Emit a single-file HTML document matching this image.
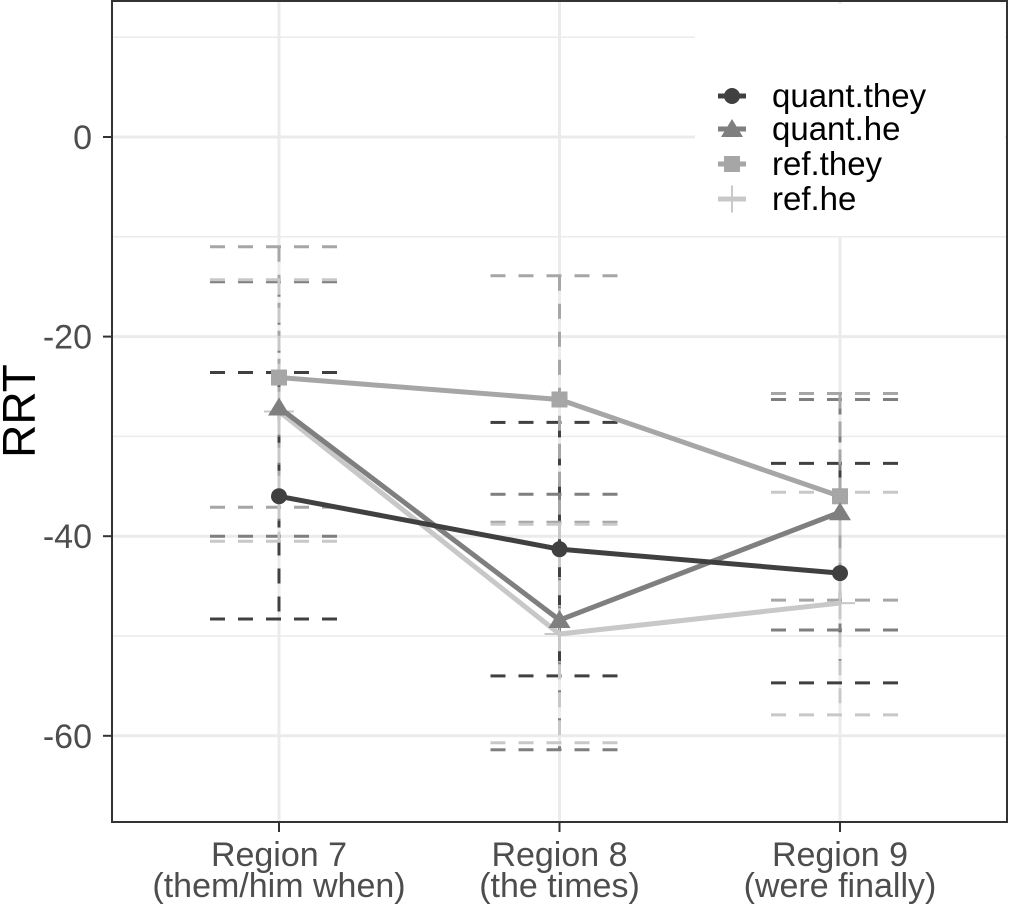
<!DOCTYPE html>
<html><head><meta charset="utf-8"><style>
html,body{margin:0;padding:0;background:#fff;}
svg{display:block;font-family:"Liberation Sans",sans-serif;}
</style></head><body>
<svg id="chart" width="1009" height="909" viewBox="0 0 1009 909" xmlns="http://www.w3.org/2000/svg">
<g id="grid"></g>
<g id="errs"></g>
<g id="lines"></g>
<g id="axes"></g>
<g id="legend"></g>
</svg>
<script>
const categories = ["Region 7", "Region 8", "Region 9"];
const categorySub = ["(them/him when)", "(the times)", "(were finally)"];
const seriesNames = ["quant.they", "quant.he", "ref.they", "ref.he"];
const quantThey = [-36.0, -41.3, -43.7];
const quantHe = [-27.1, -48.4, -37.6];
const refThey = [-24.1, -26.3, -36.0];
const refHe = [-27.5, -49.8, -46.7];
const quantTheyLo = [-48.3, -54.0, -54.7];
const quantTheyHi = [-23.6, -28.6, -32.7];
const quantHeLo = [-40.0, -61.4, -49.4];
const quantHeHi = [-14.5, -35.8, -26.3];
const refTheyLo = [-37.1, -38.6, -46.4];
const refTheyHi = [-11.0, -13.9, -25.7];
const refHeLo = [-40.5, -60.7, -57.9];
const refHeHi = [-14.3, -38.8, -35.6];
const yTicks = [0, -20, -40, -60];
const yMinor = [10, -10, -30, -50];

const NS = "http://www.w3.org/2000/svg";
const L = 112, R = 1007, T = 1, B = 822;
function y(v){ return 137 - v * 9.98; }
function x(i){ return 279 + i * 280.5; }
function mk(tag, attrs, parent){
  const e = document.createElementNS(NS, tag);
  for (const k in attrs) e.setAttribute(k, attrs[k]);
  parent.appendChild(e);
  return e;
}
const colors = ["#404040", "#7f7f7f", "#a6a6a6", "#c8c8c8"];
const means = [quantThey, quantHe, refThey, refHe];
const los = [quantTheyLo, quantHeLo, refTheyLo, refHeLo];
const his = [quantTheyHi, quantHeHi, refTheyHi, refHeHi];

const grid = document.getElementById('grid');
mk('rect', {x:L, y:T, width:R-L, height:B-T, fill:'#fff'}, grid);
yMinor.forEach(v => {
  const g = mk('line', {x1:L, x2:R, y1:y(v), y2:y(v), stroke:'#ebebeb', 'stroke-width':1.5}, grid);
  
  
});
yTicks.forEach(v => {
  const g = mk('line', {x1:L, x2:R, y1:y(v), y2:y(v), stroke:'#ebebeb', 'stroke-width':3}, grid);
  
  
});
categories.forEach((c, i) => {
  const g = mk('line', {x1:x(i), x2:x(i), y1:T, y2:B, stroke:'#ebebeb', 'stroke-width':3}, grid);
  
  
});

const errs = document.getElementById('errs');
means.forEach((m, s) => {
  categories.forEach((c, i) => {
    const lo = y(los[s][i]), hi = y(his[s][i]), cx = x(i);
    const ds = {stroke:colors[s], 'stroke-width':3, 'stroke-dasharray':'15 13', fill:'none'};
    const v = mk('line', Object.assign({x1:cx, x2:cx, y1:hi, y2:lo}, ds), errs);
    
    
    [lo, hi].forEach(yy => {
      const h = mk('line', Object.assign({x1:cx-69, x2:cx+69, y1:yy, y2:yy}, ds), errs);
      
      
    });
  });
});

function marker(s, cx, cy, parent, sc){
  sc = sc || 1;
  let e;
  if (s === 0) e = mk('circle', {cx:cx, cy:cy, r:8*sc, fill:colors[s]}, parent);
  else if (s === 1) e = mk('polygon', {points:`${cx},${cy-10*sc} ${cx+11*sc},${cy+8*sc} ${cx-11*sc},${cy+8*sc}`, fill:colors[s]}, parent);
  else if (s === 2) e = mk('rect', {x:cx-8*sc, y:cy-8*sc, width:16*sc, height:16*sc, fill:colors[s]}, parent);
  else e = mk('path', {d:`M${cx-15*sc},${cy}H${cx+15*sc}M${cx},${cy-15*sc}V${cy+15*sc}`, stroke:colors[s], 'stroke-width':2, fill:'none'}, parent);
  return e;
}
const lines = document.getElementById('lines');
[3, 2, 1, 0].forEach(s => {
  const pts = means[s].map((v, i) => x(i) + ',' + y(v)).join(' ');
  const pl = mk('polyline', {points:pts, fill:'none', stroke:colors[s], 'stroke-width':5, 'stroke-linejoin':'round'}, lines);
  
  
  means[s].forEach((v, i) => {
    const p = marker(s, x(i), y(v), lines);
    
    
  });
});

const axes = document.getElementById('axes');
mk('rect', {x:L, y:T, width:R-L, height:B-T, fill:'none', stroke:'#333', 'stroke-width':2}, axes);
yTicks.forEach(v => {
  mk('line', {x1:103, x2:L, y1:y(v), y2:y(v), stroke:'#333', 'stroke-width':2}, axes);
  const t = mk('text', {x:92, y:y(v)+12, 'text-anchor':'end', 'font-size':34, fill:'#4d4d4d'}, axes);
  t.textContent = v;
  
  
});
categories.forEach((c, i) => {
  mk('line', {x1:x(i), x2:x(i), y1:B, y2:B+10, stroke:'#333', 'stroke-width':2}, axes);
  const t = mk('text', {x:x(i), y:866, 'text-anchor':'middle', 'font-size':34, fill:'#4d4d4d'}, axes);
  t.textContent = c;
  
  
  const t2 = mk('text', {x:x(i), y:897, 'text-anchor':'middle', 'font-size':34, fill:'#4d4d4d'}, axes);
  t2.textContent = categorySub[i];
  
  
});
const yt = mk('text', {x:0, y:0, transform:'translate(35,411) rotate(-90)', 'text-anchor':'middle', 'font-size':46, fill:'#000'}, axes);
yt.textContent = 'RRT';



const legend = document.getElementById('legend');
mk('rect', {x:695, y:4, width:310, height:232, fill:'#fff'}, legend);
const ly = [96, 129, 164, 199];
seriesNames.forEach((n, s) => {
  const g = mk('g', {}, legend);
  
  
  mk('line', {x1:718, x2:746, y1:ly[s], y2:ly[s], stroke:colors[s], 'stroke-width':5}, g);
  marker(s, 732, ly[s], g, s === 3 ? 0.9 : 1);
  const t = mk('text', {x:772, y:ly[s]+11, 'font-size':33, fill:'#000'}, g);
  t.textContent = n;
});
</script>
</body></html>
